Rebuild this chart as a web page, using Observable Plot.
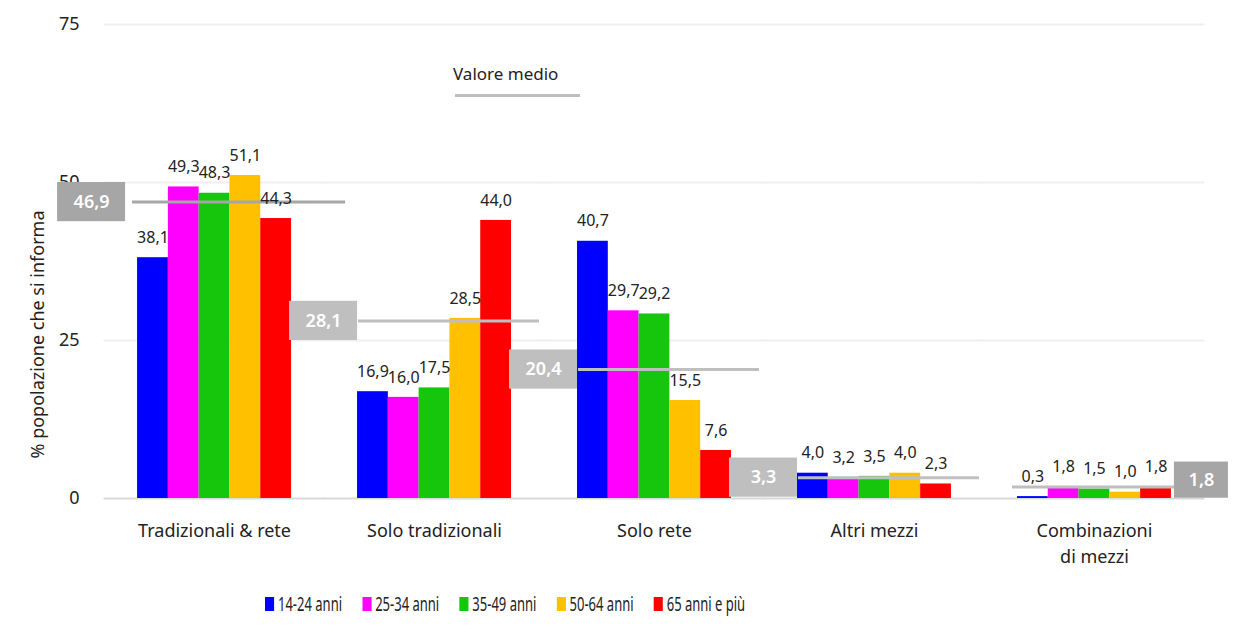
<!DOCTYPE html>
<html>
<head>
<meta charset="utf-8">
<script src="https://cdn.jsdelivr.net/npm/d3@7"></script>
<script src="https://cdn.jsdelivr.net/npm/@observablehq/plot@0.6"></script>
<style>
  body { margin: 0; background: #fff; font-family: "Noto Sans", sans-serif; }
  #wrap { position: relative; width: 1235px; height: 635px; overflow: hidden; }
  #medio { position: absolute; left: 453px; top: 62px; font-size: 17px; color: #222; }
  #medioLine { position: absolute; left: 455px; top: 94px; width: 125px; height: 3px; background: #bfbfbf; }
  #legend { position: absolute; left: 265px; top: 590px; display: flex; align-items: center;
            transform: scaleX(0.65); transform-origin: left center; white-space: nowrap; }
  .item { display: flex; align-items: center; margin-right: 31px; font-size: 20px; color: #222; }
  .sw { width: 14px; height: 14px; margin-right: 6px; }
</style>
</head>
<body>
<div id="wrap">
  <div id="chart"></div>
  <div id="medio">Valore medio</div>
  <div id="medioLine"></div>
  <div id="legend"></div>
</div>
<script>
const categories = ["Tradizionali & rete", "Solo tradizionali", "Solo rete", "Altri mezzi", "Combinazioni di mezzi"];
const ageGroups = ["14-24 anni", "25-34 anni", "35-49 anni", "50-64 anni", "65 anni e più"];
const values1424 = [38.1, 16.9, 40.7, 4.0, 0.3];
const values2534 = [49.3, 16.0, 29.7, 3.2, 1.8];
const values3549 = [48.3, 17.5, 29.2, 3.5, 1.5];
const values5064 = [51.1, 28.5, 15.5, 4.0, 1.0];
const values65 = [44.3, 44.0, 7.6, 2.3, 1.8];
const averages = [46.9, 28.1, 20.4, 3.3, 1.8];
const yTicks = [0, 25, 50, 75];
const colors = ["#0000ff", "#ff00ff", "#16c60c", "#ffc000", "#ff0000"];
const yTitle = "% popolazione che si informa";

const series = [values1424, values2534, values3549, values5064, values65];
const data = [];
categories.forEach((c, ci) => series.forEach((s, si) => data.push({cat: c, age: ageGroups[si], value: s[ci]})));
const avgData = categories.map((c, i) => ({cat: c, avg: averages[i], idx: i}));
const fmt = v => v.toFixed(1).replace(".", ",");
const catLabel = c => c.replace(" di ", "\ndi ");

const W = 1235, H = 580, ML = 101, MR = 28, MT = 24, MB = 82;
const PI = 0.3, PO = 0.164;
const step = (W - ML - MR) / (categories.length - PI + 2 * PO);
const bw = step * (1 - PI) / ageGroups.length;
const gap = step * PI;
const boxHalf = 3.1;

const first = avgData.filter(d => d.idx === 0);
const middle = avgData.filter(d => d.idx > 0 && d.idx < 4);
const last = avgData.filter(d => d.idx === 4);
const a0 = ageGroups[0], aN = ageGroups[ageGroups.length - 1];
const c0 = categories[0];

// grid rows: one per facet and tick
const gridRows = [];
categories.forEach(c => yTicks.forEach(t => gridRows.push({cat: c, t})));

const chart = Plot.plot({
  width: W, height: H,
  marginLeft: ML, marginRight: MR, marginTop: MT, marginBottom: MB,
  style: {fontFamily: "'Noto Sans', sans-serif", color: "#222", background: "#fff", overflow: "visible"},
  fx: {domain: categories, paddingInner: PI, paddingOuter: PO, round: false, axis: null, label: null},
  x: {domain: ageGroups, padding: 0, round: false, axis: null},
  y: {domain: [0, 75], axis: null},
  color: {domain: ageGroups, range: colors},
  marks: [
    Plot.ruleY(gridRows.filter(d => d.t > 0), {fx: "cat", y: "t", stroke: "#efefef", strokeWidth: 2, insetLeft: -gap / 2 - 0.5, insetRight: -gap / 2 - 0.5}),
    Plot.ruleY(gridRows.filter(d => d.t === 0), {fx: "cat", y: "t", stroke: "#d9d9d9", strokeWidth: 2, insetLeft: -gap / 2 - 0.5, insetRight: -gap / 2 - 0.5}),
    Plot.text(yTicks, {fx: () => c0, y: d => d, text: d => String(d), frameAnchor: "left", textAnchor: "end", dx: -(gap * PO / PI) - 22, fontSize: 18, fill: "#222"}),
    Plot.text([yTitle], {fx: () => c0, text: d => d, frameAnchor: "left", textAnchor: "middle", rotate: -90, dx: -99, dy: 73, fontSize: 18, fill: "#222"}),
    Plot.text(categories, {fx: d => d, text: d => catLabel(d), frameAnchor: "bottom", lineAnchor: "top", dy: 20, fontSize: 18, lineHeight: 1.45, fill: "#222"}),
    Plot.barY(data, {fx: "cat", x: "age", y: "value", fill: "age"}),
    // average lines
    Plot.ruleY(first, {fx: "cat", y: "avg", stroke: "#a6a6a6", strokeWidth: 3, insetLeft: -5, insetRight: -54}),
    Plot.ruleY(middle, {fx: "cat", y: "avg", stroke: "#bfbfbf", strokeWidth: 3, insetLeft: 1, insetRight: -28}),
    Plot.ruleY(last, {fx: "cat", y: "avg", stroke: "#bfbfbf", strokeWidth: 3, insetLeft: -5, insetRight: -19}),
    // average boxes
    Plot.barY(first, {fx: "cat", x: () => a0, y1: d => d.avg - boxHalf, y2: d => d.avg + boxHalf, fill: "#a6a6a6", insetLeft: -80, insetRight: bw + 12}),
    Plot.barY(middle, {fx: "cat", x: () => a0, y1: d => d.avg - boxHalf, y2: d => d.avg + boxHalf, fill: "#bfbfbf", insetLeft: -68, insetRight: bw}),
    Plot.barY(last, {fx: "cat", x: () => aN, y1: d => d.avg - 2.86, y2: d => d.avg + 2.86, fill: "#a6a6a6", insetLeft: bw + 3, insetRight: -57, dy: -7}),
    Plot.text(first, {fx: "cat", x: () => a0, y: "avg", text: d => fmt(d.avg), dx: -46 - bw / 2, fill: "#fff", fontSize: 18, fontWeight: 600}),
    Plot.text(middle, {fx: "cat", x: () => a0, y: "avg", text: d => fmt(d.avg), dx: -34 - bw / 2, fill: "#fff", fontSize: 18, fontWeight: 600}),
    Plot.text(last, {fx: "cat", x: () => aN, y: "avg", text: d => fmt(d.avg), dx: bw / 2 + 30, dy: -7, fill: "#fff", fontSize: 18, fontWeight: 600}),
    // value labels
    Plot.text(data, {fx: "cat", x: "age", y: "value", text: d => fmt(d.value), dy: -20, fontSize: 16, fill: "#222"})
  ]
});
document.getElementById("chart").appendChild(chart);

const legend = document.getElementById("legend");
ageGroups.forEach((g, i) => {
  const it = document.createElement("div");
  it.className = "item";
  const sw = document.createElement("div");
  sw.className = "sw";
  sw.style.background = colors[i];
  const lb = document.createElement("span");
  lb.textContent = g;
  it.appendChild(sw);
  it.appendChild(lb);
  legend.appendChild(it);
});
</script>
</body>
</html>
